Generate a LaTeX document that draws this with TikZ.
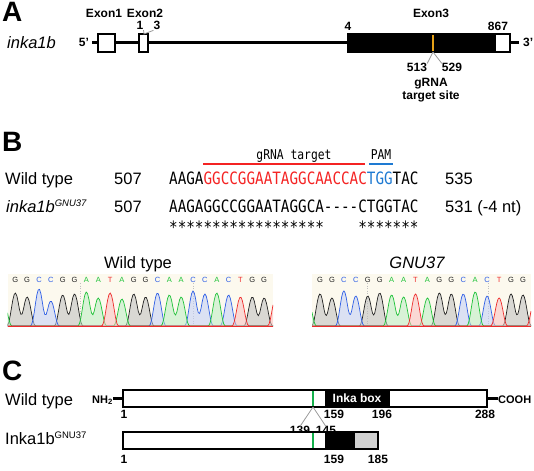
\documentclass[tikz,border=0pt]{standalone}
\usepackage{fontspec}
\setmainfont{Liberation Sans}
\newfontfamily\seqfont{DejaVu Sans Mono}[FakeStretch=0.84,Ligatures=TeXOff]
\usetikzlibrary{positioning}
\usepackage{xcolor}
\definecolor{SeqRed}{HTML}{F42323}
\definecolor{SeqBlue}{HTML}{1E7AD2}
\definecolor{Guide}{HTML}{E6A117}
\definecolor{Motif}{HTML}{13B04B}
\definecolor{Cream}{HTML}{FCF9EE}
\definecolor{baseG}{HTML}{222222}
\definecolor{baseC}{HTML}{2F5FE6}
\definecolor{baseA}{HTML}{1EC238}
\definecolor{baseT}{HTML}{EE2A2A}

\tikzset{declare function={bp(\q)=max(0,1-(\q/9)*(\q/9))*max(0,1-(\q/9)*(\q/9))*max(0,1-(\q/9)*(\q/9));}}

% one trace of a chromatogram: colour, from, to, sum of peaks
\newcommand{\chromtrace}[4]{%
  \fill[#1!30, fill opacity=0.55] (#2,326) -- plot[domain=#2:#3,samples=200] (\x,{326-(#4)}) -- (#3,326) -- cycle;
  \draw[#1, line width=0.7pt] plot[domain=#2:#3,samples=200] (\x,{326-(#4)});
}

\begin{document}
\begin{tikzpicture}[x=1pt,y=-1pt,
    panel/.style={font=\bfseries\fontsize{28}{30}\selectfont, inner sep=0, anchor=base west},
    rowlabel/.style={font=\fontsize{16.5}{18}\selectfont, inner sep=0, anchor=base west},
    lbl/.style={font=\bfseries\fontsize{12}{13}\selectfont, inner sep=0, anchor=base},
    small/.style={font=\bfseries\fontsize{11}{12}\selectfont, inner sep=0, anchor=base},
    seq/.style={font=\seqfont\fontsize{17}{18}\selectfont, inner sep=0, anchor=base west},
    exonbox/.style={draw=black, fill=white, line width=1.6pt},
    leader/.style={draw=black!40, line width=0.8pt},
    basecall/.style={font=\fontsize{7.5}{8}\selectfont, inner sep=0}]
  \useasboundingbox (0,0) rectangle (534,470);

  % ---- A: gene structure
  \node[panel] (pA) at (2,22) {A};
  \node[rowlabel] (gene) at (7,49) {\itshape inka1b};
  \node[lbl] (p5) at (84,47) {5'};
  \node[lbl, anchor=base west] (p3) at (523,47) {3'};
  \coordinate (gstart) at (92,43);
  \coordinate (gend) at (519,43);
  \draw[line width=3pt] (gstart) -- (gend);
  \filldraw[exonbox] (98,34) rectangle (115,52);
  \filldraw[exonbox] (139,34) rectangle (148,52);
  \fill[black] (348,34) rectangle (495,52);
  \filldraw[exonbox] (495,34) rectangle (510,52);
  \draw[line width=1.6pt] (348,34) rectangle (510,52);
  \draw[Guide, line width=2.2pt] (433,34.8) -- (433,51.2);
  \node[lbl] (ex1) at (104,18) {Exon1};
  \node[lbl] (ex2) at (145,18) {Exon2};
  \node[lbl] (ex3) at (431,18) {Exon3};
  \node[lbl] (s1) at (140,30) {1};
  \node[lbl] (s3) at (157,30) {3};
  \coordinate (e2top) at (144,34);
  \draw[leader] (s1.south east) -- (e2top) -- (s3.south west);
  \node[lbl] (s4) at (348,31) {4};
  \node[lbl] (s867) at (498,31) {867};
  \coordinate (cut) at (433,52);
  \node[lbl] (s513) at (417,72) {513};
  \node[lbl] (s529) at (452,72) {529};
  \draw[leader] (cut) -- (s513.north east);
  \draw[leader] (cut) -- (s529.north west);
  \node[lbl] (grna) at (431,87) {gRNA};
  \node[lbl] (site) at (431,100) {target site};

  % ---- B: sequences
  \node[panel] (pB) at (2,152) {B};
  \node[font=\seqfont\fontsize{13.5}{14}\selectfont, inner sep=0, anchor=base] (tgt) at (294,160) {gRNA target};
  \node[font=\seqfont\fontsize{13.5}{14}\selectfont, inner sep=0, anchor=base] (pam) at (381,160) {PAM};
  \draw[SeqRed, line width=2.8pt] (203,164) -- (365,164);
  \draw[SeqBlue, line width=2.8pt] (369,164) -- (393,164);
  \node[rowlabel] (wt) at (5,185) {Wild type};
  \node[rowlabel] (wtfrom) at (114,185) {507};
  \node[seq] (wtseq) at (169,185) {AAGA\textcolor{SeqRed}{GGCCGGAATAGGCAACCAC}\textcolor{SeqBlue}{TGG}TAC};
  \node[rowlabel] (wtto) at (445,185) {535};
  \node[rowlabel] (mut) at (6,212) {\itshape inka1b\raisebox{6pt}{\fontsize{9.5}{10}\selectfont GNU37}};
  \node[rowlabel] (mutfrom) at (114,212) {507};
  \node[seq] (mutseq) at (169,212) {AAGAGGCCGGAATAGGCA----CTGGTAC};
  \node[rowlabel] (mutto) at (445,212) {531 (-4 nt)};
  \node[seq] (stars) at (169,233) {******************\phantom{AAAA}*******};

  % ---- B: chromatograms
  \node[rowlabel, anchor=base] (wttitle) at (138,268) {Wild type};
  \node[rowlabel, anchor=base] (mutitle) at (417,268) {\itshape GNU37};
  \fill[Cream] (7.5,274) rectangle (273,327);
  \fill[Cream] (312,274) rectangle (531,327);
  \draw[gray!50, dotted, line width=0.5pt] (80,283) -- (80,326);
  \draw[gray!50, dotted, line width=0.5pt] (193,283) -- (193,326);
  \draw[gray!50, dotted, line width=0.5pt] (367,283) -- (367,326);
  \draw[gray!50, dotted, line width=0.5pt] (488,283) -- (488,326);
  \begin{scope}
    \clip (7.5,274) rectangle (273,327);
    \chromtrace{baseG}{7.5}{273}{33*bp(\x-15.3)+29*bp(\x-27.15)+31*bp(\x-62.7)+32*bp(\x-74.55)+32*bp(\x-133.8)+29*bp(\x-145.65)+29*bp(\x-252.3)+28*bp(\x-264.15)}
    \chromtrace{baseC}{7.5}{273}{37*bp(\x-39)+25*bp(\x-50.85)+33*bp(\x-157.5)+35*bp(\x-193.05)+32*bp(\x-204.9)+31*bp(\x-228.6)}
    \chromtrace{baseA}{7.5}{273}{26*bp(\x-3.45)+34*bp(\x-86.4)+28*bp(\x-98.25)+27*bp(\x-121.95)+31*bp(\x-169.35)+29*bp(\x-181.2)+33*bp(\x-216.75)}
    \chromtrace{baseT}{7.5}{273}{33*bp(\x-110.1)+29*bp(\x-240.45)+30*bp(\x-276)}
  \end{scope}
  \begin{scope}
    \clip (312,274) rectangle (531,327);
    \chromtrace{baseG}{312}{531}{32*bp(\x-320)+28*bp(\x-331.94)+30*bp(\x-367.76)+33*bp(\x-379.7)+33*bp(\x-439.4)+32*bp(\x-451.34)+32*bp(\x-511.04)+31*bp(\x-522.98)}
    \chromtrace{baseC}{312}{531}{35*bp(\x-343.88)+30*bp(\x-355.82)+32*bp(\x-463.28)+30*bp(\x-487.16)}
    \chromtrace{baseA}{312}{531}{26*bp(\x-308.06)+31*bp(\x-391.64)+29*bp(\x-403.58)+28*bp(\x-427.46)+34*bp(\x-475.22)}
    \chromtrace{baseT}{312}{531}{32*bp(\x-415.52)+28*bp(\x-499.1)+28*bp(\x-534.92)}
  \end{scope}
  \draw[baseT, line width=0.8pt] (7.5,326) -- (273,326);
  \draw[baseT, line width=0.8pt] (312,326) -- (531,326);
  \foreach \b [count=\i from 0] in {G,G,C,C,G,G,A,A,T,A,G,G,C,A,A,C,C,A,C,T,G,G}
    \node[basecall, text=base\b] (wt\i) at ({15.3+11.85*\i},280) {\b};
  \foreach \b [count=\i from 0] in {G,G,C,C,G,G,A,A,T,A,G,G,C,A,C,T,G,G}
    \node[basecall, text=base\b] (mu\i) at ({320+11.94*\i},280) {\b};

  % ---- C: proteins
  \node[panel] (pC) at (2,380) {C};
  \node[rowlabel] (wtp) at (5,405) {Wild type};
  \node[small, anchor=base west] (nh) at (92,403) {NH\textsubscript{2}};
  \node[small, anchor=base west] (cooh) at (498,403) {COOH};
  \draw[line width=3pt] (nh.east |- 0,398.5) -- (122.7,398.5);
  \draw[line width=3pt] (487,398.5) -- (cooh.west |- 0,398.5);
  \filldraw[exonbox] (122.7,390) rectangle (487,407);
  \fill[black] (325,390) rectangle (390,407);
  \draw[Motif, line width=2.4pt] (313,390.8) -- (313,406.2);
  \node[lbl, text=white] (ibox) at (357,402.5) {Inka box};
  \node[lbl] (a1) at (124,418.5) {1};
  \node[lbl] (a159) at (334,418.5) {159};
  \node[lbl] (a196) at (382,418.5) {196};
  \node[lbl] (a288) at (485,418.5) {288};
  \coordinate (motif) at (313,407);
  \node[lbl] (a139) at (300,434) {139};
  \node[lbl] (a145) at (326,434) {145};
  \draw[leader] (motif) -- ([yshift=-1pt]a139.north);
  \draw[leader] (motif) -- ([yshift=-1pt]a145.north);
  \node[rowlabel] (mutp) at (5,444) {Inka1b\raisebox{6pt}{\fontsize{9.5}{10}\selectfont GNU37}};
  \filldraw[exonbox] (122.7,432) rectangle (378,449);
  \fill[black] (325,432.8) rectangle (355,448.2);
  \fill[black!18] (355,432.8) rectangle (377.2,448.2);
  \draw[line width=1.6pt] (122.7,432) rectangle (378,449);
  \draw[Motif, line width=2.4pt] (313,432.8) -- (313,448.2);
  \node[lbl] (b1) at (124,463) {1};
  \node[lbl] (b159) at (334,463) {159};
  \node[lbl] (b185) at (378,463) {185};
\end{tikzpicture}
\end{document}
